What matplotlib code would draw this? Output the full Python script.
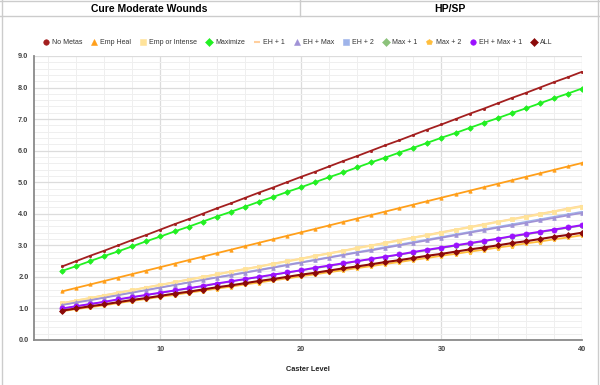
import matplotlib
matplotlib.use("Agg")
import matplotlib.pyplot as plt
from matplotlib.lines import Line2D
from matplotlib.ticker import MultipleLocator

plt.rcParams['font.family'] = ['Liberation Sans', 'DejaVu Sans']

levels = list(range(3, 41))

no_metas = [2.33, 2.5, 2.67, 2.83, 3.0, 3.17, 3.33, 3.5, 3.67, 3.83, 4.0, 4.17, 4.33, 4.5, 4.67, 4.83, 5.0, 5.17, 5.33,
            5.5, 5.67, 5.83, 6.0, 6.17, 6.33, 6.5, 6.67, 6.83, 7.0, 7.17, 7.33, 7.5, 7.67, 7.83, 8.0, 8.17, 8.33, 8.5]
emp_heal = [1.54, 1.65, 1.76, 1.87, 1.98, 2.09, 2.2, 2.31, 2.42, 2.53, 2.64, 2.75, 2.86, 2.97, 3.08, 3.19, 3.3, 3.41, 3.52,
            3.63, 3.74, 3.85, 3.96, 4.07, 4.18, 4.29, 4.4, 4.51, 4.62, 4.73, 4.84, 4.95, 5.06, 5.17, 5.28, 5.39, 5.5, 5.61]
emp_or_intense = [1.16, 1.25, 1.33, 1.41, 1.49, 1.58, 1.66, 1.74, 1.83, 1.91, 1.99, 2.08, 2.16, 2.24, 2.32, 2.41, 2.49, 2.57, 2.66,
                  2.74, 2.82, 2.91, 2.99, 3.07, 3.15, 3.24, 3.32, 3.4, 3.49, 3.57, 3.65, 3.74, 3.82, 3.9, 3.98, 4.07, 4.15, 4.23]
maximize = [2.19, 2.34, 2.5, 2.66, 2.81, 2.97, 3.13, 3.28, 3.44, 3.59, 3.75, 3.91, 4.06, 4.22, 4.38, 4.53, 4.69, 4.84, 5.0,
            5.16, 5.31, 5.47, 5.63, 5.78, 5.94, 6.09, 6.25, 6.41, 6.56, 6.72, 6.88, 7.03, 7.19, 7.34, 7.5, 7.66, 7.81, 7.97]
eh_1 = [1.17, 1.25, 1.33, 1.42, 1.5, 1.58, 1.67, 1.75, 1.83, 1.92, 2.0, 2.08, 2.17, 2.25, 2.33, 2.42, 2.5, 2.58, 2.67,
        2.75, 2.83, 2.92, 3.0, 3.08, 3.17, 3.25, 3.33, 3.42, 3.5, 3.58, 3.67, 3.75, 3.83, 3.92, 4.0, 4.08, 4.17, 4.25]
eh_max = [1.11, 1.19, 1.26, 1.34, 1.42, 1.5, 1.58, 1.66, 1.74, 1.82, 1.9, 1.98, 2.05, 2.13, 2.21, 2.29, 2.37, 2.45, 2.53,
          2.61, 2.69, 2.77, 2.84, 2.92, 3.0, 3.08, 3.16, 3.24, 3.32, 3.4, 3.48, 3.56, 3.63, 3.71, 3.79, 3.87, 3.95, 4.03]
eh_2 = [1.11, 1.19, 1.27, 1.35, 1.43, 1.51, 1.59, 1.67, 1.75, 1.83, 1.91, 1.99, 2.07, 2.15, 2.23, 2.31, 2.39, 2.47, 2.55,
        2.63, 2.71, 2.79, 2.87, 2.95, 3.03, 3.11, 3.19, 3.27, 3.35, 3.43, 3.51, 3.59, 3.67, 3.75, 3.83, 3.91, 3.99, 4.07]
max_1 = [0.99, 1.07, 1.14, 1.21, 1.28, 1.35, 1.42, 1.49, 1.56, 1.63, 1.7, 1.78, 1.85, 1.92, 1.99, 2.06, 2.13, 2.2, 2.27,
         2.34, 2.41, 2.49, 2.56, 2.63, 2.7, 2.77, 2.84, 2.91, 2.98, 3.05, 3.12, 3.2, 3.27, 3.34, 3.41, 3.48, 3.55, 3.62]
max_2 = [0.91, 0.98, 1.04, 1.1, 1.17, 1.24, 1.3, 1.37, 1.43, 1.5, 1.56, 1.63, 1.69, 1.76, 1.82, 1.89, 1.95, 2.02, 2.08,
         2.15, 2.21, 2.28, 2.34, 2.41, 2.47, 2.54, 2.6, 2.67, 2.73, 2.8, 2.86, 2.93, 2.99, 3.06, 3.12, 3.19, 3.25, 3.32]
eh_max_1 = [1.0, 1.07, 1.14, 1.21, 1.29, 1.36, 1.43, 1.5, 1.57, 1.64, 1.71, 1.79, 1.86, 1.93, 2.0, 2.07, 2.14, 2.21, 2.29,
            2.36, 2.43, 2.5, 2.57, 2.64, 2.71, 2.79, 2.86, 2.93, 3.0, 3.07, 3.14, 3.21, 3.29, 3.36, 3.43, 3.5, 3.57, 3.64]
all_metas = [0.93, 1.0, 1.07, 1.13, 1.2, 1.27, 1.33, 1.4, 1.47, 1.53, 1.6, 1.67, 1.73, 1.8, 1.87, 1.93, 2.0, 2.07, 2.13,
             2.2, 2.27, 2.33, 2.4, 2.47, 2.53, 2.6, 2.67, 2.73, 2.8, 2.87, 2.93, 3.0, 3.07, 3.13, 3.2, 3.27, 3.33, 3.4]

# name, values, color, marker, marker size (plot), line width, zorder
series = [
    ("No Metas", no_metas, "#a31f1f", "o", 1.6, 1.3, 3),
    ("Emp Heal", emp_heal, "#ff9f1a", "^", 2.4, 1.3, 3),
    ("Emp or Intense", emp_or_intense, "#ffe39a", "s", 2.6, 1.5, 3),
    ("Maximize", maximize, "#22f022", "D", 2.8, 1.3, 3),
    ("EH + 1", eh_1, "#ffcf9e", "_", 2.6, 1.3, 2.9),
    ("EH + Max", eh_max, "#a092d6", "^", 2.6, 1.3, 3),
    ("EH + 2", eh_2, "#9fb4ea", "s", 2.0, 1.0, 2.5),
    ("Max + 1", max_1, "#8cc27a", "D", 2.4, 1.0, 2.5),
    ("Max + 2", max_2, "#ffbe3c", "p", 3.6, 1.3, 3),
    ("EH + Max + 1", eh_max_1, "#9b10ff", "o", 3.6, 1.4, 3),
    ("ALL", all_metas, "#8b0a0a", "D", 3.0, 1.5, 3.1),
]

fig = plt.figure(figsize=(6, 3.85), dpi=100)
ax = fig.add_axes([34 / 600, 1 - 340 / 385, 548 / 600, 284 / 385])

handles = []
for name, vals, color, marker, ms, lw, z in series:
    ax.plot(levels, vals, color=color, marker=marker, markersize=ms, linewidth=lw, zorder=z,
            markeredgewidth=0.6 if marker != "_" else 1.5)
    handles.append(Line2D([], [], linestyle="none", marker=marker, color=color,
                          markersize=4 if marker != "_" else 5, markeredgewidth=1.5 if marker == "_" else 0.4))

ax.set_xlim(1, 40)
ax.set_ylim(0, 9)
ax.xaxis.set_major_locator(MultipleLocator(10))
ax.xaxis.set_minor_locator(MultipleLocator(2))
ax.yaxis.set_major_locator(MultipleLocator(1))
ax.yaxis.set_minor_locator(MultipleLocator(0.2))
ax.yaxis.set_major_formatter(plt.FormatStrFormatter("%.1f"))
ax.grid(True, which="major", color="#dcdcdc", linewidth=0.9)
ax.grid(True, which="minor", color="#efefef", linewidth=0.7)
ax.set_axisbelow(True)
for s in ("top", "right"):
    ax.spines[s].set_visible(False)
for s in ("left", "bottom"):
    ax.spines[s].set_color("#8a8a8a")
    ax.spines[s].set_linewidth(1.3)
ax.tick_params(which="both", length=0, labelsize=5.3, labelcolor="#444444", pad=4)
for lbl in ax.get_xticklabels() + ax.get_yticklabels():
    lbl.set_fontweight("bold")
ax.set_xlabel("Caster Level", fontsize=5.3, fontweight="bold", color="#222222", labelpad=10)

fig.legend(handles, [s[0] for s in series], loc="center", bbox_to_anchor=(0.497, 1 - 43 / 385),
           ncol=11, frameon=False, fontsize=5.0, handlelength=0.6, handletextpad=0.6, columnspacing=1.4,
           labelcolor="#333333")

# header row and page frame
fig.text(149 / 600, 1 - 8.5 / 385, "Cure Moderate Wounds", ha="center", va="center", fontsize=7.5, fontweight="bold")
fig.text(450 / 600, 1 - 8.5 / 385, "HP/SP", ha="center", va="center", fontsize=7.5, fontweight="bold")
frame = dict(color="#cccccc", linewidth=1.0, transform=fig.transFigure)
fig.add_artist(Line2D([0, 1], [1 - 16 / 385] * 2, **frame))
fig.add_artist(Line2D([0, 1], [1 - 0.5 / 385] * 2, **frame))
fig.add_artist(Line2D([300 / 600] * 2, [1 - 16 / 385, 1], **frame))
fig.add_artist(Line2D([2 / 600] * 2, [0, 1], **frame))
fig.add_artist(Line2D([598 / 600] * 2, [0, 1], **frame))

fig.savefig("out.png", dpi=100)
